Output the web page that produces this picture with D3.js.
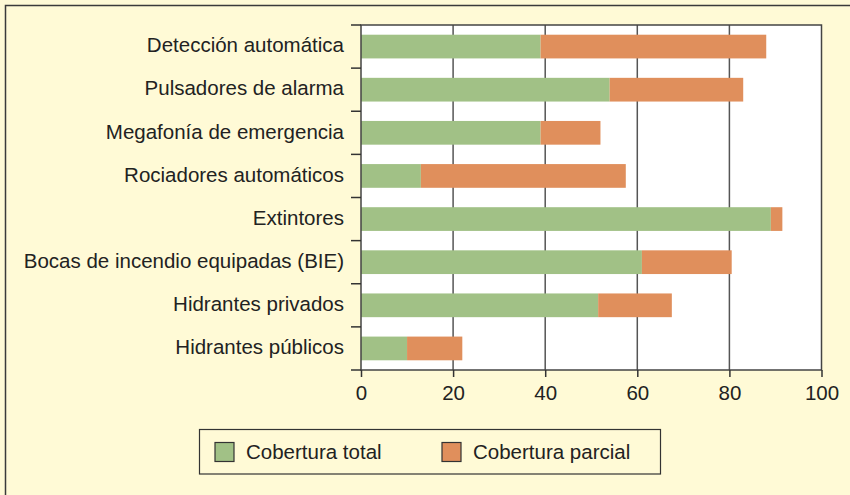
<!DOCTYPE html>
<html>
<head>
<meta charset="utf-8">
<script src="https://cdn.jsdelivr.net/npm/d3@7"></script>
<style>
  body { margin: 0; background: #fffad6; }
  svg { display: block; font-family: "Liberation Sans", Arial, sans-serif; }
</style>
</head>
<body>
<div id="chart"></div>
<script>
// categories top to bottom
var categories = [
    "Detección automática",
    "Pulsadores de alarma",
    "Megafonía de emergencia",
    "Rociadores automáticos",
    "Extintores",
    "Bocas de incendio equipadas (BIE)",
    "Hidrantes privados",
    "Hidrantes públicos"
];
var totalValues   = [39, 54, 39, 13, 89, 61, 51.5, 10];   // Cobertura total
var partialValues = [49, 29, 13, 44.5, 2.5, 19.5, 16, 12]; // Cobertura parcial
var seriesNames = ["Cobertura total", "Cobertura parcial"];
var xTicks = [0, 20, 40, 60, 80, 100];

var width = 850;
var height = 495;
var plot = { left: 361, right: 821.5, top: 25, bottom: 370 };
var colors = ["#a1c186", "#e08f5c"];
var fontSize = "20.5px";

var svg = d3.select("#chart")
    .append("svg")
    .attr("width", width)
    .attr("height", height);

// cream background with top/left frame
svg.append("rect")
    .attr("width", width)
    .attr("height", height)
    .attr("fill", "#fffad6");
svg.append("path")
    .attr("d", "M5.5," + height + "V5.5H" + width)
    .attr("fill", "none")
    .attr("stroke", "#3a3a3a")
    .attr("stroke-width", 1.5);

var x = d3.scaleLinear()
    .domain([0, 100])
    .range([plot.left, plot.right]);

var y = d3.scaleBand()
    .domain(categories)
    .range([plot.top, plot.bottom])
    .paddingInner(0.45)
    .paddingOuter(0.225);

var bandStep = (plot.bottom - plot.top) / categories.length;

// plot area
svg.append("rect")
    .attr("x", plot.left)
    .attr("y", plot.top)
    .attr("width", plot.right - plot.left)
    .attr("height", plot.bottom - plot.top)
    .attr("fill", "#ffffff");

// vertical gridlines
svg.append("g")
    .selectAll("line")
    .data(xTicks.slice(1, -1))
    .join("line")
    .attr("x1", function(d) { return x(d); })
    .attr("x2", function(d) { return x(d); })
    .attr("y1", plot.top)
    .attr("y2", plot.bottom)
    .attr("stroke", "#555")
    .attr("stroke-width", 1.5);

// stacked bars
var stackData = categories.map(function(c, i) {
    return { cat: c, total: totalValues[i], partial: partialValues[i] };
});
var series = d3.stack().keys(["total", "partial"])(stackData);

svg.append("g")
    .selectAll("g")
    .data(series)
    .join("g")
    .attr("fill", function(d, i) { return colors[i]; })
    .selectAll("rect")
    .data(function(d) { return d; })
    .join("rect")
    .attr("x", function(d) { return x(d[0]); })
    .attr("width", function(d) { return x(d[1]) - x(d[0]); })
    .attr("y", function(d) { return y(d.data.cat); })
    .attr("height", y.bandwidth());

// plot frame
svg.append("rect")
    .attr("x", plot.left)
    .attr("y", plot.top)
    .attr("width", plot.right - plot.left)
    .attr("height", plot.bottom - plot.top)
    .attr("fill", "none")
    .attr("stroke", "#444")
    .attr("stroke-width", 1.5);

// x axis
var xAxis = svg.append("g")
    .attr("transform", "translate(0," + plot.bottom + ")")
    .call(d3.axisBottom(x).tickValues(xTicks).tickSize(7).tickPadding(8));
xAxis.select(".domain").remove();
xAxis.selectAll("line").attr("stroke", "#333").attr("stroke-width", 1.5);
xAxis.selectAll("text")
    .attr("fill", "#222")
    .style("font-size", fontSize)
    .style("font-family", "'Liberation Sans', Arial, sans-serif");

// y tick marks on band boundaries
svg.append("g")
    .selectAll("line")
    .data(d3.range(categories.length + 1))
    .join("line")
    .attr("x1", plot.left - 10)
    .attr("x2", plot.left)
    .attr("y1", function(i) { return plot.top + i * bandStep; })
    .attr("y2", function(i) { return plot.top + i * bandStep; })
    .attr("stroke", "#333")
    .attr("stroke-width", 1.5);

// category labels
svg.append("g")
    .selectAll("text")
    .data(categories)
    .join("text")
    .attr("x", plot.left - 17)
    .attr("y", function(d) { return y(d) + y.bandwidth() / 2; })
    .attr("dy", "0.28em")
    .attr("text-anchor", "end")
    .attr("fill", "#222")
    .style("font-size", fontSize)
    .text(function(d) { return d; });

// legend
var legend = svg.append("g");
legend.append("rect")
    .attr("x", 199.5)
    .attr("y", 429.5)
    .attr("width", 461)
    .attr("height", 44.5)
    .attr("fill", "none")
    .attr("stroke", "#333")
    .attr("stroke-width", 1.2);

var legendX = [215, 442];
var items = legend.selectAll("g")
    .data(seriesNames)
    .join("g")
    .attr("transform", function(d, i) { return "translate(" + legendX[i] + ",442.5)"; });
items.append("rect")
    .attr("width", 19)
    .attr("height", 19)
    .attr("fill", function(d, i) { return colors[i]; })
    .attr("stroke", "#333")
    .attr("stroke-width", 1.2);
items.append("text")
    .attr("x", 31)
    .attr("y", 9.5)
    .attr("dy", "0.35em")
    .attr("fill", "#222")
    .style("font-size", fontSize)
    .text(function(d) { return d; });
</script>
</body>
</html>
